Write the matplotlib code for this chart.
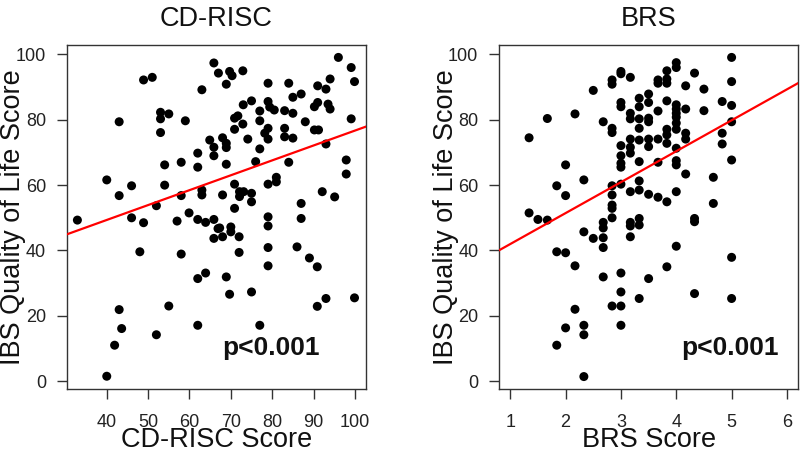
import matplotlib
matplotlib.use("Agg")
import matplotlib.pyplot as plt
import numpy as np

plt.rcParams['font.family'] = ['Liberation Sans', 'DejaVu Sans']

# ---- CD-RISC panel data ----
cd_x = [40, 43, 43, 46, 48.9, 51, 53, 53, 55, 53, 59, 54, 58, 54, 58, 62, 62, 63, 63, 63,
        64.9, 65.9, 65.9, 65.9, 67, 68, 68.9, 68.9, 68.9, 68, 69.7, 32.9, 46, 48.9, 52, 59.9,
        57, 62, 63.9, 65.9, 66.9, 65.9, 68, 48, 58, 62, 63.9, 68.9, 69.7, 43, 43.6, 41.9, 40,
        55, 52, 62, 70.3, 72.9, 96, 99.1, 99.9, 79, 84, 91, 94, 93, 87, 85, 75, 73, 79, 79.4,
        80.5, 77, 83, 85, 91, 90.2, 93.5, 94, 71.7, 70.9, 72.9, 77, 88, 99.1, 70.9, 79, 78.2,
        79, 83, 83, 85, 74.1, 90.2, 91.2, 68.9, 77, 93, 76, 84, 97.9, 97.9, 79, 81, 81, 70.9,
        72.1, 73.1, 72.1, 75, 92.1, 95.1, 75, 70.9, 87, 87, 79, 79, 67.3, 70, 70, 72, 72, 79,
        79, 86, 89, 90.9, 75, 77, 90.9, 93, 99.9]
cd_y = [61.6, 79.4, 56.8, 59.8, 92.2, 93, 82.3, 80.3, 81.8, 76.1, 79.7, 66.2, 67, 60, 56.8,
        69.8, 65.5, 89.2, 58.5, 57, 73.8, 71.6, 69, 97.4, 94.3, 74.5, 90.9, 71.5, 66.4, 57,
        94.8, 49.3, 50, 48.5, 53.7, 51.5, 49, 49.5, 48.6, 49.5, 46.7, 43.7, 44.2, 39.6, 38.9,
        31.4, 33.1, 31.9, 26.6, 21.9, 16.1, 11, 1.5, 23, 14.2, 17.1, 93.5, 95, 99.1, 96, 91.7,
        91.2, 91.2, 90.4, 92.5, 89.4, 87.9, 86.9, 85.8, 84.6, 85.6, 83.9, 83, 82.7, 82.8, 82,
        85.3, 84, 84.8, 83.3, 81.2, 80.5, 78.7, 79.7, 79.4, 80.3, 77.1, 77.4, 75.9, 74.1, 77.4,
        74.8, 74.4, 74.1, 76.9, 76.9, 72.8, 71.1, 72.6, 67.2, 67, 67.7, 63.4, 60.3, 62.4, 61,
        60.3, 58, 58, 56.5, 57.5, 58, 56.4, 54.9, 52.9, 54.4, 49.8, 50.3, 47.5, 46.9, 47.2,
        45.7, 44.2, 39.4, 40.9, 35.3, 41.1, 37.7, 35, 27.3, 17.1, 22.9, 25.3, 25.5]
cd_fit = [31.1, 0.456]   # intercept, slope

# ---- BRS panel data ----
brs_x = [1.34, 1.67, 2.17, 2.0, 1.84, 2.0, 2.33, 2.5, 2.68, 2.84, 2.84, 2.84, 2.84, 3.0, 3.0,
         3.17, 3.0, 3.0, 3.17, 3.17, 3.33, 3.33, 3.33, 3.33, 3.17, 3.17, 3.17, 3.0, 3.0, 3.0,
         3.0, 3.33, 3.33, 2.84, 2.84, 3.0, 3.17, 3.33, 3.33,
         1.34, 1.5, 1.67, 2.84, 2.84, 2.84, 2.68, 2.68, 2.68, 2.68, 2.33, 2.5, 3.17, 3.17, 3.17,
         3.33, 3.33, 1.84, 2.0, 2.17, 2.68, 3.0, 3.0, 3.33, 2.84, 3.0, 2.17, 2.0, 2.33, 2.33,
         3.0, 1.84, 2.33,
         5.0, 4.0, 4.0, 3.83, 3.83, 3.83, 3.67, 3.67, 4.33, 4.17, 4.5, 5.0, 3.5, 3.5, 3.83, 4.0,
         4.0, 4.0, 4.0, 4.17, 4.5, 4.83, 5.0, 3.67, 3.5, 3.5, 4.0, 4.0, 3.83, 3.83, 4.17, 4.17,
         5.0, 4.83, 4.83, 3.5, 3.67, 3.83, 3.5, 4.0, 3.67, 4.0, 4.0, 5.0, 4.17, 4.67, 3.5, 3.67,
         3.83, 4.0, 4.67, 4.33, 4.33, 4.0, 3.83, 3.5, 4.33, 5.0, 5.0]
brs_y = [74.5, 80.4, 81.8, 66.2, 59.8, 56.8, 61.6, 89, 79.4, 77.4, 76.1, 92.2, 90.9, 94.8, 94.1,
         93, 85.3, 84, 82, 80.3, 86.6, 84, 80.3, 77.4, 74.1, 71.6, 69.8, 72.1, 69, 66.7,
         65.5, 73.8, 67.2, 59.8, 57, 60.3, 58, 61.3, 58.5,
         51.5, 49.5, 49.3, 53.9, 52.9, 50, 48.6, 46.9, 43.9, 40.9, 45.7, 43.7, 48.6, 47.5, 44.2,
         49.8, 47.8, 39.6, 39.3, 35.3, 31.9, 33.1, 27.3, 25.3, 23, 23, 22, 16.3, 17.1, 14.2,
         17.1, 11, 1.4,
         99.1, 97.5, 96, 95, 92.5, 91.2, 92.2, 91.2, 94.3, 90.4, 89.4, 91.7, 87.9, 85.3, 85.8, 84.6,
         83.3, 82, 80.8, 83.3, 82.8, 85.6, 84.4, 82.7, 80.5, 79.4, 79, 77.1, 77.1, 75.4, 75.9, 74.1,
         79.4, 75.9, 72.6, 74.1, 74.1, 72.8, 71.8, 71.3, 67, 67.5, 66.2, 67.7, 63.4, 62.4, 57.2, 56.3,
         54.9, 58, 54.4, 49.8, 48.8, 41.3, 35, 31.4, 26.8, 37.9, 25.3]
brs_fit = [32.5, 9.47]

titles = ["CD-RISC", "BRS"]
xlabels = ["CD-RISC Score", "BRS Score"]
ylabel = "IBS Quality of Life Score"
ptext = "p<0.001"
cd_xticks = [40, 50, 60, 70, 80, 90, 100]
brs_xticks = [1, 2, 3, 4, 5, 6]
yticks = [0, 20, 40, 60, 80, 100]

fig = plt.figure(figsize=(8, 4.5), dpi=100)
axL = fig.add_axes([0.0834, 0.1356, 0.3741, 0.7644])
axR = fig.add_axes([0.624, 0.1356, 0.3735, 0.7644])

panels = [
    (axL, cd_x, cd_y, cd_fit, cd_xticks, (33, 100), 91.4),
    (axR, brs_x, brs_y, brs_fit, brs_xticks, (1, 6), 5.85),
]
for i, (ax, xs, ys, fit, xt, (lo, hi), px) in enumerate(panels):
    ax.scatter(xs, ys, s=42, color='black', edgecolors='none', zorder=3)
    ext = (hi - lo) * 0.04
    ax.set_xlim(lo - ext, hi + ext)
    ax.set_ylim(-2.4, 102.9)
    xl = np.array(ax.get_xlim())
    ax.plot(xl, fit[0] + fit[1] * xl, color='#ff0000', lw=1.6, zorder=4)
    ax.set_xticks(xt)
    ax.set_yticks(yticks)
    ax.tick_params(axis='both', direction='out', length=7, width=1, labelsize=13,
                   color='#333333', labelcolor='#222222')
    ax.tick_params(axis='x', pad=11)
    ax.tick_params(axis='y', pad=8)
    for sp in ax.spines.values():
        sp.set_color('#333333')
        sp.set_linewidth(1)
    ax.set_title(titles[i], fontsize=19.5, pad=14, color='#111111')
    ax.set_xlabel(xlabels[i], fontsize=19.5, color='#111111')
    ax.xaxis.set_label_coords(0.5, -0.11)
    ax.set_ylabel(ylabel, fontsize=19.5, color='#111111')
    ax.yaxis.set_label_coords(-0.136, 0.5)
    ax.text(px, 10, ptext, fontsize=19, fontweight='bold', ha='right', va='center',
            color='#111111')

fig.savefig("out.png", dpi=100)
